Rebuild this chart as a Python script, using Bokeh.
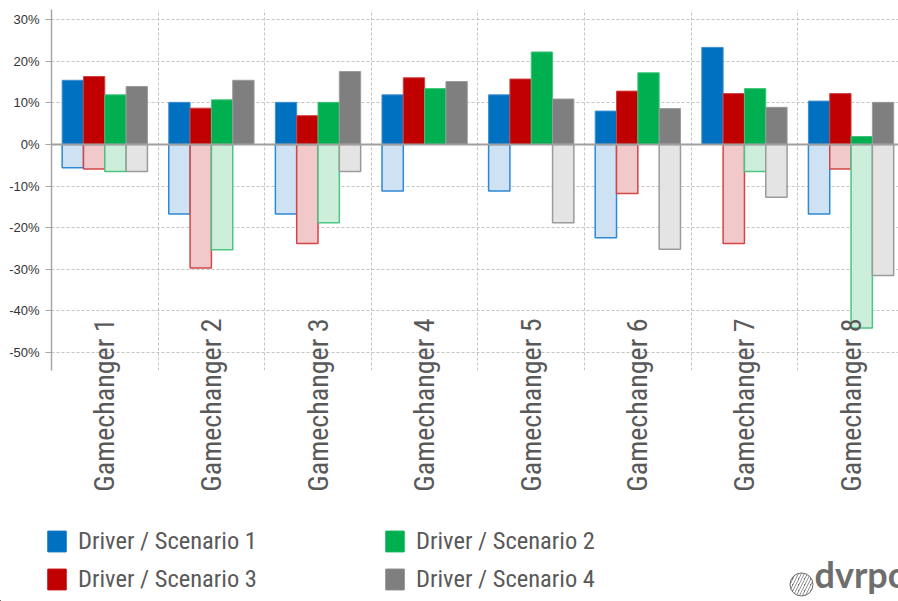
import math
import numpy as np
from bokeh.plotting import figure
from bokeh.layouts import column
from bokeh.models import (ColumnDataSource, Range1d, FixedTicker, NumeralTickFormatter,
                          Span, Legend, LegendItem, Label)
from bokeh.embed import file_html
from bokeh.resources import INLINE

categories = ["Gamechanger 1", "Gamechanger 2", "Gamechanger 3", "Gamechanger 4",
              "Gamechanger 5", "Gamechanger 6", "Gamechanger 7", "Gamechanger 8"]

series_names = ["Driver / Scenario 1", "Driver / Scenario 2",
                "Driver / Scenario 3", "Driver / Scenario 4"]

# values in percent
s1_pos = [15.4, 10.1, 10.1, 11.9, 11.9, 8.0, 23.3, 10.4]
s1_neg = [-5.6, -16.7, -16.7, -11.2, -11.2, -22.4, None, -16.7]
s2_pos = [11.9, 10.7, 10.1, 13.4, 22.2, 17.2, 13.4, 1.9]
s2_neg = [-6.5, -25.3, -18.8, None, None, None, -6.5, -44.1]
s3_pos = [16.3, 8.7, 6.9, 16.0, 15.7, 12.8, 12.2, 12.2]
s3_neg = [-5.9, -29.7, -23.8, None, None, -11.8, -23.8, -5.9]
s4_pos = [13.9, 15.4, 17.5, 15.1, 10.9, 8.6, 8.9, 10.1]
s4_neg = [-6.5, None, -6.5, None, -18.8, -25.2, -12.7, -31.5]

y_ticks = [-50, -40, -30, -20, -10, 0, 10, 20, 30]

pos_colors = {"s1": "#0070C0", "s2": "#00B050", "s3": "#C00000", "s4": "#7F7F7F"}
pos_lines = {"s1": "#3f8fd0", "s2": "#3fc47a", "s3": "#d04040", "s4": "#9a9a9a"}
neg_fill = {"s1": "#cfe2f3", "s2": "#cdeedb", "s3": "#f2c9ca", "s4": "#e4e4e4"}
neg_line = {"s1": "#2f88d4", "s2": "#4cc583", "s3": "#d24646", "s4": "#9b9b9b"}

COND = "Roboto Condensed, DejaVu Sans Condensed, Liberation Sans Narrow, Roboto"

order = [("s1", s1_pos, s1_neg), ("s3", s3_pos, s3_neg),
         ("s2", s2_pos, s2_neg), ("s4", s4_pos, s4_neg)]
offsets = [-0.3, -0.1, 0.1, 0.3]

n = len(categories)
centers = [i + 0.5 for i in range(n)]

p = figure(width=898, height=500, output_backend="svg", toolbar_location=None,
           x_range=Range1d(0, 7.945), y_range=Range1d(-0.543, 0.324),
           min_border_left=51, min_border_right=0, min_border_top=9,
           min_border_bottom=130)
p.frame_align = False
p.outline_line_color = None
p.background_fill_color = "white"
p.border_fill_color = "white"

for (key, pos, neg), off in zip(order, offsets):
    xs = [c + off for c in centers]
    src_pos = ColumnDataSource(dict(x=xs, top=[v / 100 for v in pos]))
    p.vbar(x="x", top="top", bottom=0, width=0.2, source=src_pos,
           fill_color=pos_colors[key], line_color=pos_lines[key], line_width=1)
    negv = [np.nan if v is None else v / 100 for v in neg]
    src_neg = ColumnDataSource(dict(x=xs, bottom=negv))
    p.vbar(x="x", top=0, bottom="bottom", width=0.2, source=src_neg,
           fill_color=neg_fill[key], line_color=neg_line[key], line_width=1.5)

zero = Span(location=0, dimension="width", line_color="#a0a0a0", line_width=2)
p.add_layout(zero)

# y axis
p.yaxis.ticker = FixedTicker(ticks=[t / 100 for t in y_ticks])
p.yaxis.formatter = NumeralTickFormatter(format="0%")
p.yaxis.axis_line_color = "#a6a6a6"
p.yaxis.axis_line_width = 1.5
p.yaxis.major_tick_line_color = "#a6a6a6"
p.yaxis.major_tick_out = 6
p.yaxis.major_tick_in = 0
p.yaxis.minor_tick_line_color = None
p.yaxis.major_label_standoff = 6
p.yaxis.major_label_text_font = "Liberation Sans"
p.yaxis.major_label_text_font_size = "13px"
p.yaxis.major_label_text_color = "#333333"

# x axis
p.xaxis.ticker = FixedTicker(ticks=centers)
p.xaxis.major_label_overrides = {c: lab for c, lab in zip(centers, categories)}
p.xaxis.major_label_orientation = math.pi / 2
p.xaxis.axis_line_color = None
p.xaxis.major_tick_line_color = None
p.xaxis.minor_tick_line_color = None
p.xaxis.major_tick_out = 0
p.xaxis.major_tick_in = 0
p.xaxis.major_label_standoff = -52
p.xaxis.major_label_text_font = COND
p.xaxis.major_label_text_font_size = "28px"
p.xaxis.major_label_text_color = "#595959"

# grids
p.ygrid.ticker = FixedTicker(ticks=[t / 100 for t in y_ticks])
p.ygrid.grid_line_color = "#c4c4c4"
p.ygrid.grid_line_dash = "3 2"
p.xgrid.ticker = FixedTicker(ticks=list(range(1, n)))
p.xgrid.grid_line_color = "#c4c4c4"
p.xgrid.grid_line_dash = "3 2"

# legend panel (second figure, pixel ranges)
q = figure(width=898, height=101, output_backend="svg", toolbar_location=None,
           x_range=Range1d(0, 898), y_range=Range1d(0, 101),
           x_axis_location=None, y_axis_location=None,
           min_border_left=0, min_border_right=0, min_border_top=0, min_border_bottom=0)
q.frame_align = False
q.outline_line_color = None
q.xgrid.visible = False
q.ygrid.visible = False

leg_r = {}
for key in ["s1", "s2", "s3", "s4"]:
    leg_r[key] = q.vbar(x=[-1000], top=[1], width=1, fill_color=pos_colors[key],
                        line_color=pos_colors[key])

# column-major fill: col 1 = scenarios 1 & 3, col 2 = scenarios 2 & 4
items = [LegendItem(label=series_names[0], renderers=[leg_r["s1"]]),
         LegendItem(label=series_names[2], renderers=[leg_r["s3"]]),
         LegendItem(label=series_names[1], renderers=[leg_r["s2"]]),
         LegendItem(label=series_names[3], renderers=[leg_r["s4"]])]
legend = Legend(items=items, ncols=2, location=(45, 8))
legend.glyph_width = 23
legend.glyph_height = 26
legend.label_height = 26
legend.label_width = 296
legend.label_standoff = 10
legend.spacing = 9
legend.padding = 0
legend.margin = 0
legend.border_line_color = None
legend.background_fill_alpha = 0
legend.label_text_font = COND
legend.label_text_font_size = "24.5px"
legend.label_text_color = "#595959"
legend.label_text_baseline = "middle"
q.add_layout(legend, "center")

# dvrpc logo
q.scatter(x=[801], y=[17], marker="circle", size=23, fill_color="#707070",
          line_color="#707070", hatch_pattern="/", hatch_color="white",
          hatch_scale=6, hatch_weight=2)
q.add_layout(Label(x=814, y=6, text="dvrpc", text_font="Lato", text_font_style="bold",
                   text_font_size="36px", text_color="#6e6e6e"))

open("out.html", "w").write(file_html(column(p, q, spacing=0), INLINE))
